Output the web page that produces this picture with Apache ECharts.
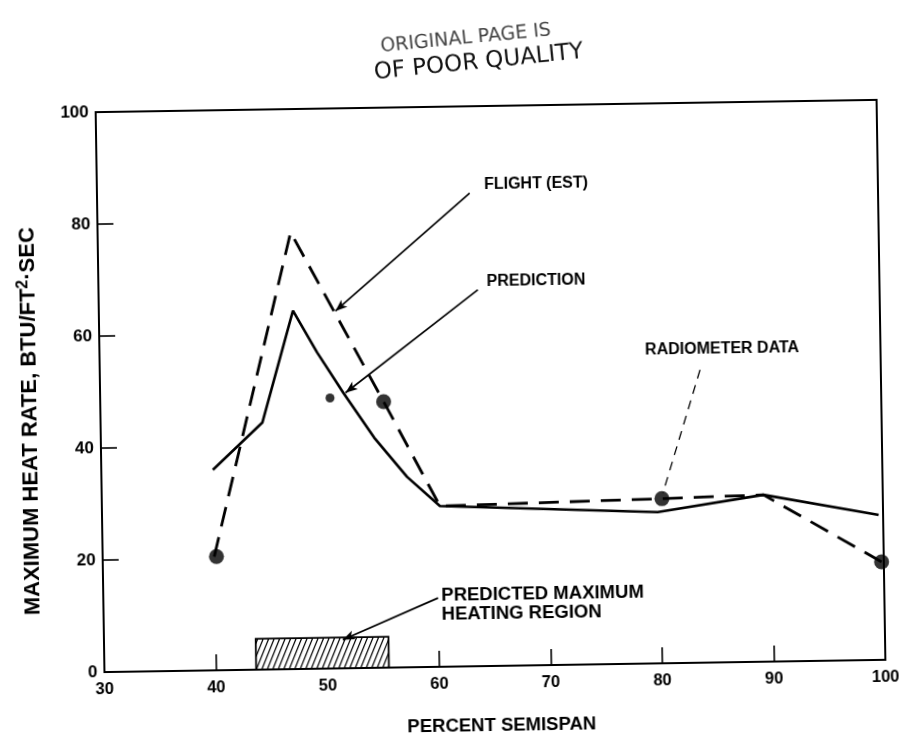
<!DOCTYPE html>
<html><head><meta charset="utf-8">
<script src="https://cdn.jsdelivr.net/npm/echarts@6/dist/echarts.min.js"></script>
<style>
html,body{margin:0;padding:0;background:#fff;overflow:hidden}
#c{width:901px;height:741px;transform:rotate(-0.9deg);transform-origin:489px 385px;}
</style>
</head><body><div id="c"></div>
<script>
// ---- axis ticks ----
const xTicks = [30, 40, 50, 60, 70, 80, 90, 100];
const yTicks = [0, 20, 40, 60, 80, 100];

// ---- FLIGHT (EST) dashed line ----
const flightX = [40, 47.3, 55.4, 60.3, 80.2, 89.3, 99.8];
const flightY = [20.3, 78, 47.5, 28.7, 29.4, 29.8, 17.5];

// ---- PREDICTION solid line ----
const predX = [40, 44.5, 47.4, 49.5, 51.8, 54.5, 57.4, 60.3, 79.8, 89.3, 99.6];
const predY = [35.8, 44.1, 64, 56.5, 49.2, 41.1, 34, 28.7, 27, 29.8, 25.9];

// ---- RADIOMETER DATA points ----
const radX = [40.2, 50.6, 55.4, 80.2, 99.8];
const radY = [20.3, 48.3, 47.5, 29.4, 17.5];

// ---- predicted maximum heating region ----
const heatX = [43.6, 55.5];
const heatY = [0, 5.5];

// ---- annotations ----
const annotTexts = ['FLIGHT (EST)', 'PREDICTION', 'RADIOMETER DATA', 'PREDICTED MAXIMUM\nHEATING REGION'];
const annotAt = [[64.7, 85.9], [64.8, 68.6], [78.9, 56.0], [60.3, 11.0]];
const annotSize = [16, 16, 16, 18.5];
const leaderFrom = [[63.4, 84.5], [64.0, 67.2], [83.8, 52.3], [60.0, 12.3]];
const leaderTo = [[51.2, 63.8], [52.0, 49.2], [80.3, 30.4], [51.4, 5.1]];
const leaderType = ['solid', 'solid', 'dashed', 'solid'];
const leaderArrow = [true, true, false, true];

const FONT = 'Liberation Sans, Arial, Helvetica, sans-serif';
const zip = (a, b) => a.map((v, i) => [v, b[i]]);

function renderHatch(params, api) {
  const p0 = api.coord([api.value(0), api.value(3)]);
  const p1 = api.coord([api.value(1), api.value(2)]);
  const x0 = p0[0], y0 = p0[1], x1 = p1[0], y1 = p1[1];
  const h = y1 - y0, d = h * 0.42, step = 5.5;
  const children = [{type: 'rect', shape: {x: x0, y: y0, width: x1 - x0, height: h},
    style: {fill: '#fff', stroke: '#000', lineWidth: 1.8}}];
  for (let xb = x0 - d + 2; xb < x1; xb += step) {
    let ax = xb, ay = y1, bx = xb + d, by = y0;
    if (ax < x0) { const t = (x0 - xb) / d; ax = x0; ay = y1 - t * h; }
    if (bx > x1) { const t = (x1 - xb) / d; bx = x1; by = y1 - t * h; }
    children.push({type: 'line', shape: {x1: ax, y1: ay, x2: bx, y2: by},
      style: {stroke: '#000', lineWidth: 1.2}});
  }
  return {type: 'group', children};
}

const chart = echarts.init(document.getElementById('c'), null, {renderer: 'canvas'});
chart.setOption({
  backgroundColor: '#fff',
  animation: false,
  grid: {left: 100, right: 20, top: 106, bottom: 75, show: true, borderColor: '#000', borderWidth: 2},
  xAxis: {
    type: 'value', min: xTicks[0], max: xTicks[xTicks.length - 1], interval: xTicks[1] - xTicks[0],
    name: 'PERCENT SEMISPAN', nameLocation: 'middle', nameGap: 50,
    nameTextStyle: {color: '#000', fontFamily: FONT, fontWeight: 'bold', fontSize: 18.5, padding: [0, 0, 0, 12]},
    axisLine: {show: true, lineStyle: {color: '#000', width: 2}},
    axisTick: {show: true, inside: true, length: 16, lineStyle: {color: '#000', width: 1.6}},
    axisLabel: {color: '#000', fontFamily: FONT, fontWeight: 'bold', fontSize: 16.5, margin: 9},
    splitLine: {show: false}
  },
  yAxis: {
    type: 'value', min: yTicks[0], max: yTicks[yTicks.length - 1], interval: yTicks[1] - yTicks[0],
    name: '{a|MAXIMUM HEAT RATE, BTU/FT}{s|2}{a|·SEC}', nameLocation: 'middle', nameGap: 57,
    nameTextStyle: {color: '#000', padding: [0, 56, 0, 0], rich: {
      a: {fontFamily: FONT, fontWeight: 'bold', fontSize: 22, color: '#000'},
      s: {fontFamily: FONT, fontWeight: 'bold', fontSize: 16, color: '#000', verticalAlign: 'bottom', padding: [0, 0, 10, 0]}
    }},
    axisLine: {show: true, lineStyle: {color: '#000', width: 2}},
    axisTick: {show: true, inside: true, length: 16, lineStyle: {color: '#000', width: 1.6}},
    axisLabel: {color: '#000', fontFamily: FONT, fontWeight: 'bold', fontSize: 17, margin: 7},
    splitLine: {show: false}
  },
  graphic: [
    {type: 'text', left: 385, top: 22, rotation: 0.08, style: {text: 'ORIGINAL PAGE IS', fill: '#444', font: '19px DejaVu Sans'}},
    {type: 'text', left: 378, top: 42, rotation: 0.085, style: {text: 'OF POOR QUALITY', fill: '#111', font: '23px DejaVu Sans'}}
  ],
  series: [
    {
      type: 'custom', name: 'heating region', renderItem: renderHatch,
      encode: {x: [0, 1], y: [2, 3]},
      data: [[heatX[0], heatX[1], heatY[0], heatY[1]]], z: 3
    },
    {
      type: 'line', name: 'PREDICTION', data: zip(predX, predY), showSymbol: false, symbol: 'none',
      lineStyle: {color: '#000', width: 2.6, type: 'solid'}, z: 4
    },
    {
      type: 'line', name: 'FLIGHT (EST)', data: zip(flightX, flightY), showSymbol: false, symbol: 'none',
      lineStyle: {color: '#000', width: 2.8, type: [20, 11]}, z: 4
    },
    {
      type: 'scatter', name: 'RADIOMETER DATA', data: zip(radX, radY),
      symbol: 'circle', symbolSize: (v, p) => (p.dataIndex === 1 ? 9 : 15),
      itemStyle: {color: '#000'}, z: 5,
      markLine: {
        silent: true, symbol: ['none', 'none'], label: {show: false},
        data: leaderFrom.map((f, i) => [
          {coord: f, symbol: 'none', lineStyle: {color: '#000', width: leaderType[i] === 'dashed' ? 1.3 : 1.7, type: leaderType[i] === 'dashed' ? [9, 7] : 'solid'}},
          {coord: leaderTo[i], symbol: leaderArrow[i] ? 'arrow' : 'none', symbolSize: [7, 12]}
        ])
      },
      markPoint: {
        silent: true, symbol: 'circle', symbolSize: 0.01,
        data: annotAt.map((c, i) => ({
          coord: c,
          label: {show: true, position: 'right', distance: 0, formatter: annotTexts[i], align: 'left',
            color: '#000', fontFamily: FONT, fontWeight: 'bold', fontSize: annotSize[i], lineHeight: annotSize[i] + 1}
        }))
      }
    }
  ]
});
</script>
</body></html>
